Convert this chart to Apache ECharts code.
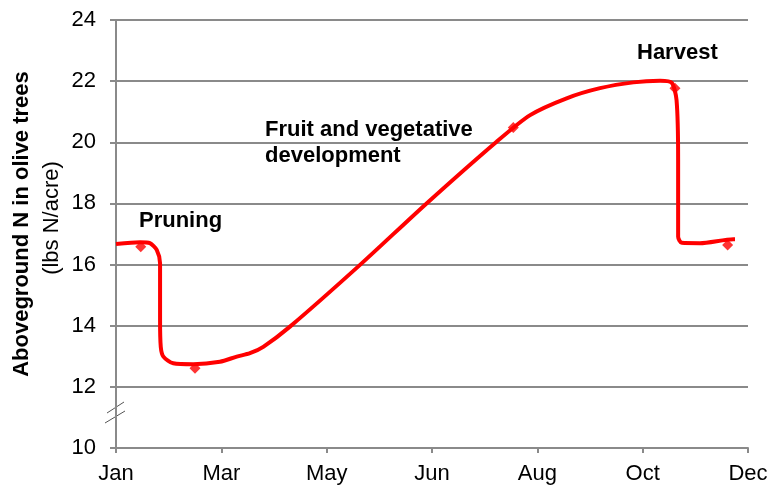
<!DOCTYPE html>
<html><head><meta charset="utf-8">
<script src="https://cdn.jsdelivr.net/npm/echarts@6/dist/echarts.min.js"></script>
<style>html,body{margin:0;padding:0;background:#fff}#c{width:780px;height:501px}</style>
</head><body><div id="c"></div>
<script>
// x = day of year, y = lbs N/acre
var monthLabels = ['Jan', 'Mar', 'May', 'Jun', 'Aug', 'Oct', 'Dec'];
var curveDays = [0, 13.7, 19.3, 23.2, 25.1, 25.1, 25.5, 27.0, 32.6, 44.0, 59.2, 68.8, 76.3, 83.9, 99.1, 139.0, 176.9, 216.8, 235.9, 256.7, 275.7, 294.7, 309.9, 316.5, 319.3, 320.2, 320.2, 322.3, 332.6, 351.7, 352.6];
var curveValues = [16.67, 16.73, 16.70, 16.48, 16.04, 14.19, 13.31, 12.99, 12.77, 12.74, 12.82, 12.99, 13.10, 13.31, 13.97, 15.99, 18.00, 20.02, 20.89, 21.44, 21.77, 21.96, 22.01, 21.95, 21.38, 19.42, 16.91, 16.71, 16.70, 16.83, 16.83];
var pointDays = [14.1, 45.0, 226.3, 318.4, 348.4];
var pointValues = [16.58, 12.61, 20.48, 21.77, 16.64];

var curve = curveDays.map(function (d, i) { return [d, curveValues[i]]; });
var pts = pointDays.map(function (d, i) { return [d, pointValues[i]]; });

var chart = echarts.init(document.getElementById('c'));
var gray = '#8a8a8a';
var font = 'Liberation Sans, Arial, sans-serif';
chart.setOption({
  animation: false,
  grid: { left: 116, right: 32, top: 20, bottom: 53 },
  xAxis: {
    type: 'value', min: 0, max: 360, interval: 60,
    axisLine: { lineStyle: { color: gray, width: 2 } },
    axisTick: { show: true, length: 5, lineStyle: { color: gray, width: 2 } },
    splitLine: { show: false },
    axisLabel: {
      color: '#000', fontFamily: font, fontSize: 22, margin: 15,
      formatter: function (v) { return monthLabels[Math.round(v / 60)]; }
    }
  },
  yAxis: {
    type: 'value', min: 10, max: 24, interval: 2,
    axisLine: { show: true, lineStyle: { color: gray, width: 2 } },
    axisTick: { show: true, length: 6, lineStyle: { color: gray, width: 2 } },
    splitLine: { show: true, lineStyle: { color: gray, width: 2 } },
    axisLabel: { color: '#000', fontFamily: font, fontSize: 22, margin: 20 }
  },
  series: [
    {
      type: 'line', data: curve, smooth: 0.25, symbol: 'none',
      lineStyle: { color: '#ff0000', width: 4 }, z: 3
    },
    {
      type: 'scatter', data: pts, symbol: 'diamond', symbolSize: 11,
      itemStyle: { color: '#ff0000' }, z: 4
    }
  ],
  graphic: [
    { type: 'text', left: 139, top: 210, style: { text: 'Pruning', font: 'bold 22px ' + font, fill: '#000' } },
    { type: 'text', left: 265, top: 117, style: { text: 'Fruit and vegetative\ndevelopment', font: 'bold 22px ' + font, fill: '#000', lineHeight: 26 } },
    { type: 'text', left: 637, top: 42, style: { text: 'Harvest', font: 'bold 22px ' + font, fill: '#000' } },
    { type: 'text', x: 22, y: 224, rotation: Math.PI / 2,
      style: { text: 'Aboveground N in olive trees', font: 'bold 22px ' + font, fill: '#000', align: 'center', verticalAlign: 'middle' } },
    { type: 'text', x: 52, y: 218, rotation: Math.PI / 2,
      style: { text: '(lbs N/acre)', font: '22px ' + font, fill: '#000', align: 'center', verticalAlign: 'middle' } },
    { type: 'line', shape: { x1: 107, y1: 413, x2: 124, y2: 402 }, style: { stroke: '#555', lineWidth: 1 } },
    { type: 'line', shape: { x1: 105, y1: 423, x2: 125, y2: 411 }, style: { stroke: '#555', lineWidth: 1 } }
  ]
});
</script>
</body></html>
